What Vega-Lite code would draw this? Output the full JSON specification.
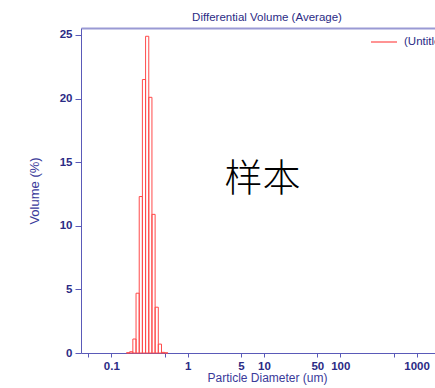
{
  "$schema": "https://vega.github.io/schema/vega-lite/v6.json",
  "autosize": {"type": "none"},
  "width": 354,
  "height": 325,
  "padding": {"left": 81, "top": 28, "right": 0, "bottom": 35},
  "background": "white",
  "view": {"stroke": null},
  "config": {
    "font": "Liberation Sans",
    "axis": {
      "labelFont": "Liberation Sans",
      "labelFontSize": 11.5,
      "labelFontWeight": "bold",
      "labelColor": "#2b2b85",
      "titleFont": "Liberation Sans",
      "titleFontSize": 12,
      "titleFontWeight": "normal",
      "titleColor": "#3a3a9a",
      "domainColor": "#5a5ab8",
      "tickColor": "#5a5ab8",
      "grid": false
    }
  },
  "title": {
    "text": "Differential Volume (Average)",
    "fontSize": 11.5,
    "fontWeight": "normal",
    "color": "#2b2b85",
    "font": "Liberation Sans",
    "anchor": "middle",
    "dx": 9,
    "offset": 5
  },
  "datasets": {
    "bins": [
      {"lo": 0.1580, "hi": 0.1738, "vol": 0.02, "series": "(Untitled)"},
      {"lo": 0.1738, "hi": 0.1913, "vol": 0.1, "series": "(Untitled)"},
      {"lo": 0.1913, "hi": 0.2106, "vol": 1.1, "series": "(Untitled)"},
      {"lo": 0.2106, "hi": 0.2318, "vol": 4.7, "series": "(Untitled)"},
      {"lo": 0.2318, "hi": 0.2552, "vol": 12.3, "series": "(Untitled)"},
      {"lo": 0.2552, "hi": 0.2809, "vol": 21.5, "series": "(Untitled)"},
      {"lo": 0.2809, "hi": 0.3092, "vol": 24.9, "series": "(Untitled)"},
      {"lo": 0.3092, "hi": 0.3404, "vol": 20.1, "series": "(Untitled)"},
      {"lo": 0.3404, "hi": 0.3746, "vol": 10.9, "series": "(Untitled)"},
      {"lo": 0.3746, "hi": 0.4124, "vol": 3.6, "series": "(Untitled)"},
      {"lo": 0.4124, "hi": 0.4539, "vol": 0.7, "series": "(Untitled)"},
      {"lo": 0.4539, "hi": 0.4997, "vol": 0.05, "series": "(Untitled)"},
      {"lo": 0.4997, "hi": 0.5500, "vol": 0.01, "series": "(Untitled)"}
    ],
    "note": [{"d": 9.6, "v": 13.6, "label": "样本"}]
  },
  "resolve": {"axis": {"x": "independent"}},
  "layer": [
    {
      "data": {"name": "bins"},
      "mark": {"type": "rect", "filled": false, "strokeWidth": 1},
      "encoding": {
        "x": {
          "field": "lo", "type": "quantitative",
          "scale": {"type": "log", "domain": [0.04, 1745], "nice": false},
          "axis": {
            "values": [0.05, 0.1, 0.5, 1, 5, 10, 50, 100, 500, 1000],
            "labelExpr": "indexof([0.05, 0.5, 500], datum.value) >= 0 ? '' : format(datum.value, '~g')",
            "labelFlush": false,
            "labelOverlap": false,
            "tickSize": 4,
            "labelPadding": 3,
            "title": "Particle Diameter (um)",
            "titleX": 186,
            "titlePadding": 1
          }
        },
        "x2": {"field": "hi"},
        "y": {
          "field": "vol", "type": "quantitative",
          "scale": {"domain": [0, 25.55], "nice": false},
          "axis": {
            "values": [0, 5, 10, 15, 20, 25],
            "tickSize": 6,
            "labelPadding": 3,
            "title": "Volume (%)",
            "titleFontSize": 13,
            "titlePadding": 18
          }
        },
        "y2": {"datum": 0},
        "color": {
          "field": "series", "type": "nominal",
          "scale": {"range": ["#ff4a4a"]},
          "legend": {
            "title": null,
            "orient": "none",
            "legendX": 289,
            "legendY": 0,
            "symbolType": "stroke",
            "symbolSize": 676,
            "symbolStrokeWidth": 1.2,
            "labelFont": "Liberation Sans",
            "labelFontSize": 11.5,
            "labelColor": "#2b2b85",
            "labelOffset": 6,
            "encode": {"symbols": {"update": {"stroke": {"value": "#ff4a4a"}, "strokeOpacity": {"value": 1}}}}
          }
        }
      }
    },
    {
      "data": {"name": "note"},
      "mark": {"type": "text", "font": "Noto Sans CJK SC", "fontSize": 38, "fontWeight": 300, "color": "black", "baseline": "middle", "align": "center"},
      "encoding": {
        "x": {"field": "d", "type": "quantitative", "axis": {"orient": "top", "labels": false, "ticks": false, "title": null, "domainColor": "#9a9ad4", "domainWidth": 2}},
        "y": {"field": "v", "type": "quantitative"},
        "text": {"field": "label"}
      }
    }
  ]
}
